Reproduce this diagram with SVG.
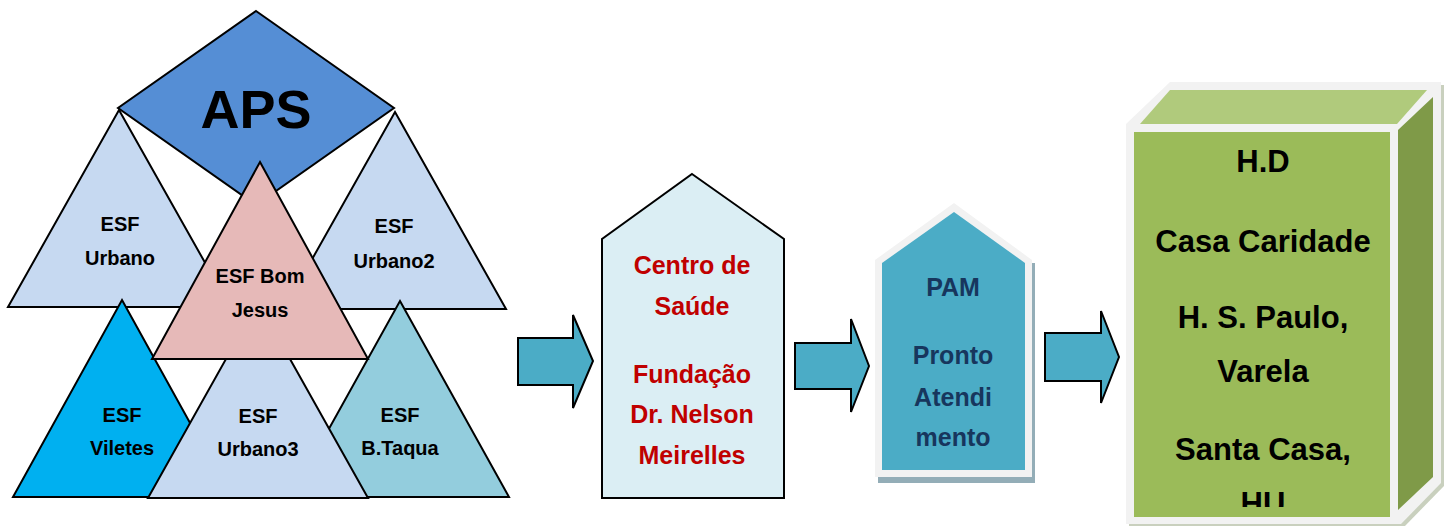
<svg xmlns="http://www.w3.org/2000/svg" width="1446" height="526" viewBox="0 0 1446 526">
<style>
.tri{stroke:#000;stroke-width:2;stroke-linejoin:miter}
.t{font-family:"Liberation Sans",Arial,sans-serif;font-weight:bold;text-anchor:middle}
.esf{font-size:20px;fill:#000}
.red{font-size:25px;fill:#C00000}
.navy{font-size:25px;fill:#17365D}
.blk{font-size:31px;fill:#000}
.arrow{fill:#4BACC6;stroke:#000;stroke-width:2;stroke-linejoin:miter}
</style>
<defs>
<clipPath id="greenClip"><rect x="1134" y="132" width="256" height="375"/></clipPath>
</defs>
<rect width="1446" height="526" fill="#fff"/>

<g id="esf-urbano">
<polygon class="tri" fill="#C6D9F1" points="119,110 230,307 8,307"/>
<text class="t esf" x="120" y="231">ESF</text>
<text class="t esf" x="120" y="265">Urbano</text>
</g>
<g id="esf-urbano2">
<polygon class="tri" fill="#C6D9F1" points="395,112 506,309 284,309"/>
<text class="t esf" x="394" y="233">ESF</text>
<text class="t esf" x="394" y="268">Urbano2</text>
</g>
<g id="aps">
<polygon class="tri" fill="#558ED5" points="256,11 394,108 256,205 118,108"/>
<text class="t" x="256" y="128" font-size="54" fill="#000">APS</text>
</g>
<g id="esf-viletes">
<polygon class="tri" fill="#00B0F0" points="122,300 231,497 13,497"/>
<text class="t esf" x="122" y="422">ESF</text>
<text class="t esf" x="122" y="455">Viletes</text>
</g>
<g id="esf-btaqua">
<polygon class="tri" fill="#93CDDD" points="400,301 509,497 291,497"/>
<text class="t esf" x="400" y="422">ESF</text>
<text class="t esf" x="400" y="455">B.Taqua</text>
</g>
<g id="esf-urbano3">
<polygon class="tri" fill="#C6D9F1" points="258,302 368,498 148,498"/>
<text class="t esf" x="258" y="423">ESF</text>
<text class="t esf" x="258" y="456">Urbano3</text>
</g>
<g id="esf-bom-jesus">
<polygon class="tri" fill="#E6B9B8" points="260,162 368,359 152,359"/>
<text class="t esf" x="260" y="283">ESF Bom</text>
<text class="t esf" x="260" y="317">Jesus</text>
</g>

<g id="centro-saude">
<polygon fill="#DBEEF4" stroke="#000" stroke-width="2" points="692,174 784,239 784,498 602,498 602,239"/>
<text class="t red" x="692" y="274">Centro de</text>
<text class="t red" x="692" y="315">Saúde</text>
<text class="t red" x="692" y="383">Fundação</text>
<text class="t red" x="692" y="423">Dr. Nelson</text>
<text class="t red" x="692" y="464">Meirelles</text>
</g>

<g id="pam">
<rect x="878" y="263" width="157" height="220" fill="#93ADB7"/>
<polygon fill="#F2F2F2" points="954,203 1032,260 1032,477 875,477 875,260"/>
<polygon fill="#4BACC6" points="954,212 1025,263 1025,470 882,470 882,263"/>
<text class="t navy" x="953" y="296">PAM</text>
<text class="t navy" x="953" y="364">Pronto</text>
<text class="t navy" x="953" y="406">Atendi</text>
<text class="t navy" x="953" y="446">mento</text>
</g>

<g id="hospitais">
<polygon fill="#C9D0BE" points="1129,127 1173,85 1444,85 1444,486 1404,527 1129,527"/>
<polygon fill="#F2F2F2" points="1126,124 1170,82 1441,82 1441,483 1401,524 1126,524"/>
<polygon fill="#B0CA7C" points="1140,124 1170,90 1427,90 1397,124"/>
<polygon fill="#7F9A48" points="1398,130 1433,97 1433,477 1398,510"/>
<rect x="1134" y="132" width="256" height="385" fill="#9BBB59"/>
<g clip-path="url(#greenClip)">
<text class="t blk" x="1263" y="172">H.D</text>
<text class="t blk" x="1263" y="252">Casa Caridade</text>
<text class="t blk" x="1263" y="328">H. S. Paulo,</text>
<text class="t blk" x="1263" y="382">Varela</text>
<text class="t blk" x="1263" y="460">Santa Casa,</text>
<text class="t blk" x="1263" y="514">HU</text>
</g>
</g>

<g id="connectors">
<polygon class="arrow" points="518,338 573,338 573,315 593,361 573,408 573,385 518,385"/>
<polygon class="arrow" points="795,343 851,343 851,319 869,366 851,412 851,389 795,389"/>
<polygon class="arrow" points="1045,333 1101,333 1101,311 1119,357 1101,403 1101,381 1045,381"/>
</g>
</svg>
